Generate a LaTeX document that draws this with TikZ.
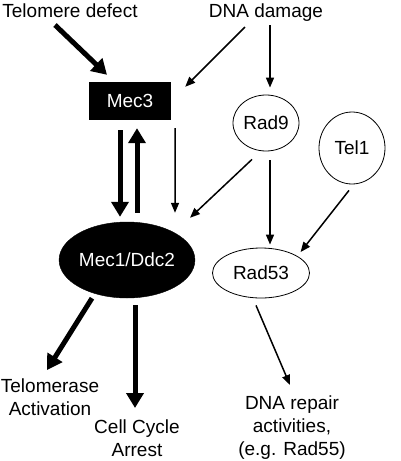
\documentclass[tikz,border=0pt]{standalone}
\usepackage{fontspec}
\setmainfont{Liberation Sans}
\usepackage{tikz}
\usetikzlibrary{arrows.meta, shapes.geometric, positioning}

\begin{document}
\begin{tikzpicture}[x=1pt, y=-1pt]
    \tikzstyle{every node}=[font=\fontsize{19}{23}\selectfont];
    \tikzstyle{txt}=[inner sep=0pt, align=center];
    \tikzstyle{blackbox}=[draw, fill=black, text=white, minimum width=81pt, minimum height=37pt];
    \tikzstyle{blackoval}=[ellipse, draw, fill=black, text=white, minimum width=130pt, minimum height=76pt, inner sep=0pt];
    \tikzstyle{whiteoval}=[ellipse, draw, line width=0.8pt, fill=white, inner sep=0pt];
    \tikzstyle{bigarrow}=[line width=5pt, -{Triangle[length=15pt, width=17pt]}];
    \tikzstyle{smallarrow}=[line width=1.5pt, -{Triangle[length=10pt, width=8pt]}];

    \useasboundingbox (0,0) rectangle (400,461);

    \node[txt, anchor=base] (telo) at (70,17) {Telomere defect};
    \node[txt, anchor=base] (dna) at (266,17) {DNA damage};
    \node[blackbox] (mec3) at (130,101) {Mec3};
    \node[whiteoval, minimum width=66pt, minimum height=56pt] (rad9) at (266,123) {Rad9};
    \node[whiteoval, minimum width=66pt, minimum height=72pt] (tel1) at (352,148) {Tel1};
    \node[blackoval] (mec1) at (127,260) {Mec1/Ddc2};
    \node[whiteoval, minimum width=97pt, minimum height=50pt] (rad53) at (261,273) {Rad53};
    \node[txt, anchor=north] (telact) at (50,379) {Telomerase\\Activation};
    \node[txt, anchor=north] (arrest) at (137,420) {Cell Cycle\\Arrest};
    \node[txt, anchor=north] (repair) at (292,396) {DNA repair\\activities,\\(e.g. Rad55)};

    % inputs
    \draw[bigarrow] ([xshift=-15pt, yshift=-8pt]telo.base) -- ([xshift=-23pt, yshift=7.5pt]mec3.north);
    \draw[smallarrow] ([xshift=-21pt, yshift=-10pt]dna.base) -- ([xshift=14.5pt, yshift=-4.5pt]mec3.north east);
    \draw[smallarrow] ([xshift=4pt, yshift=-8pt]dna.base) -- ([xshift=4pt, yshift=7pt]rad9.north);

    % Mec3 <-> Mec1/Ddc2
    \draw[bigarrow] ([xshift=-10pt, yshift=-10.5pt]mec3.south) -- ([xshift=-7pt, yshift=5pt]mec1.north);
    \draw[bigarrow] ([xshift=10pt, yshift=9pt]mec1.north) -- ([xshift=7pt, yshift=-8.5pt]mec3.south);
    \draw[smallarrow] ([xshift=4.5pt, yshift=-8.5pt]mec3.south east) -- ([xshift=48pt, yshift=9pt]mec1.north);

    % Rad9, Tel1 -> Rad53
    \draw[smallarrow] ([xshift=-14pt, yshift=-8pt]rad9.south) -- ([xshift=63pt, yshift=4pt]mec1.north);
    \draw[smallarrow] ([xshift=4pt, yshift=-9pt]rad9.south) -- ([xshift=9pt, yshift=3pt]rad53.north);
    \draw[smallarrow] ([xshift=-3pt, yshift=-6pt]tel1.south) -- ([xshift=5pt, yshift=3pt]rad53.north east);

    % outputs
    \draw[bigarrow] ([xshift=-35pt]mec1.south) -- ([xshift=-3pt, yshift=9pt]telact.north);
    \draw[bigarrow] ([xshift=8pt, yshift=-7pt]mec1.south) -- ([xshift=-2pt, yshift=12pt]arrest.north);
    \draw[smallarrow] ([xshift=-5pt, yshift=-7pt]rad53.south) -- ([xshift=-2pt, yshift=11pt]repair.north);
\end{tikzpicture}
\end{document}
